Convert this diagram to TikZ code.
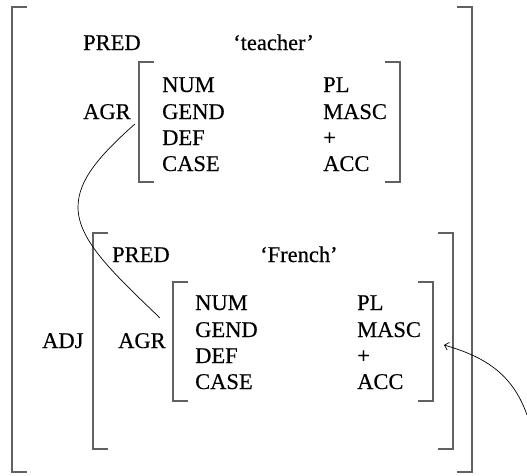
\documentclass[tikz,border=0pt]{standalone}
\usepackage{fontspec}
\setmainfont{Liberation Serif}
\newfontfamily\avmfont{Liberation Serif}[Ligatures=TeX,FakeBold=0.35]
\usetikzlibrary{arrows.meta,calc}
% square brackets of an attribute-value matrix: left x, right x, top y, bottom y
\newcommand\avmbrackets[4]{%
  \draw[brk] ($(#1,#3)+(15,0)$) -- (#1,#3) -- (#1,#4) -- ($(#1,#4)+(15,0)$);
  \draw[brk] ($(#2,#3)+(-15,0)$) -- (#2,#3) -- (#2,#4) -- ($(#2,#4)+(-15,0)$);}
\begin{document}
\begin{tikzpicture}[x=1pt,y=-1pt,
  lbl/.style={anchor=base west, inner sep=0pt, font=\avmfont\fontsize{22.5}{27}\selectfont},
  brk/.style={draw=black!62, line width=1.2pt},
  link/.style={draw=black, line width=0.7pt},
]
\useasboundingbox (0,0) rectangle (527,475);

% outer f-structure
\avmbrackets{12}{472}{7}{472}
\node[lbl] (pred1) at (83,50) {PRED};
\node[lbl] (val1) at (233,50) {‘teacher’};
\node[lbl] (agr1) at (83,119) {AGR};

% agreement of the noun
\avmbrackets{139}{400}{62}{182}
\node[lbl] (num1)  at (162,92)  {NUM};
\node[lbl] (gend1) at (162,119) {GEND};
\node[lbl] (def1)  at (162,145) {DEF};
\node[lbl] (case1) at (162,171) {CASE};
\node[lbl] (numv1)  at (323,92)  {PL};
\node[lbl] (gendv1) at (323,119) {MASC};
\node[lbl] (defv1)  at (323,145) {+};
\node[lbl] (casev1) at (323,171) {ACC};

% adjunct f-structure
\node[lbl] (adj) at (42,348) {ADJ};
\avmbrackets{93}{453}{233}{449}
\node[lbl] (pred2) at (112,262) {PRED};
\node[lbl] (val2) at (260,262) {‘French’};
\node[lbl] (agr2) at (118,348) {AGR};

% agreement of the adjective
\avmbrackets{173}{433}{282}{401}
\node[lbl] (num2)  at (195,310) {NUM};
\node[lbl] (gend2) at (195,337) {GEND};
\node[lbl] (def2)  at (195,363) {DEF};
\node[lbl] (case2) at (195,389) {CASE};
\node[lbl] (numv2)  at (357,310) {PL};
\node[lbl] (gendv2) at (357,337) {MASC};
\node[lbl] (defv2)  at (357,363) {+};
\node[lbl] (casev2) at (357,389) {ACC};

% shared agreement link
\coordinate (linkA) at ([shift={(4,5)}]agr1.base east);
\coordinate (linkB) at ([shift={(-6,-15)}]agr2.north east);
\draw[link] (linkA) .. controls (100,155) and (78,180) .. (78,207)
  .. controls (78,240) and (112,272) .. (linkB);

% incoming arrow, ending just right of the inner bracket
\coordinate (src) at (527,415);
\coordinate (dst) at (444,345);
\draw[link, -{Straight Barb[length=4pt,width=8pt]}]
  (src) .. controls (512,372) and (482,356) .. (dst);
\end{tikzpicture}
\end{document}
